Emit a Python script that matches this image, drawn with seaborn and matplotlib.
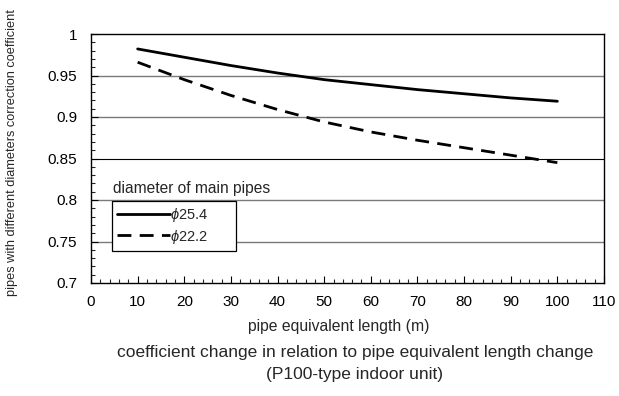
import numpy as np
import pandas as pd
import matplotlib
matplotlib.use("Agg")
import matplotlib.pyplot as plt
import seaborn as sns
from matplotlib.ticker import MultipleLocator
from matplotlib.lines import Line2D

# Correction coefficient vs. pipe equivalent length
length_m = [10, 20, 30, 40, 50, 60, 70, 80, 90, 100]
coef_254 = [0.982, 0.972, 0.962, 0.953, 0.945, 0.939, 0.933, 0.928, 0.923, 0.919]
coef_222 = [0.966, 0.945, 0.926, 0.909, 0.894, 0.882, 0.872, 0.863, 0.854, 0.845]
series_labels = [r"$\phi$25.4", r"$\phi$22.2"]
y_ticks = [0.7, 0.75, 0.8, 0.85, 0.9, 0.95, 1.0]
y_tick_labels = ["0.7", "0.75", "0.8", "0.85", "0.9", "0.95", "1"]

df = pd.concat([
    pd.DataFrame({"length": length_m, "coef": coef_254, "pipe": series_labels[0]}),
    pd.DataFrame({"length": length_m, "coef": coef_222, "pipe": series_labels[1]}),
])

sns.set_style("white")
plt.rcParams["font.family"] = ["Liberation Sans", "DejaVu Sans"]
plt.rcParams["mathtext.fontset"] = "custom"
plt.rcParams["mathtext.it"] = "Liberation Sans:italic"
plt.rcParams["mathtext.rm"] = "Liberation Sans"

fig = plt.figure(figsize=(6.19, 3.96), dpi=100)
ax = fig.add_axes([91 / 619, 1 - 283 / 396, (604 - 91) / 619, (283 - 34) / 396])

sns.lineplot(data=df, x="length", y="coef", hue="pipe", style="pipe",
             palette=["black", "black"], dashes=[(None, None), (5, 3)],
             linewidth=2, ax=ax, legend=False)

ax.set_xlim(0, 110)
ax.set_ylim(0.7, 1.0)
ax.xaxis.set_major_locator(MultipleLocator(10))
ax.xaxis.set_minor_locator(MultipleLocator(2))
ax.yaxis.set_minor_locator(MultipleLocator(0.01))
ax.set_yticks(y_ticks)
ax.set_yticklabels(y_tick_labels)

# horizontal reference lines
for yv in [0.75, 0.8, 0.9, 0.95]:
    ax.axhline(yv, color="#7a7a7a", linewidth=1.0, zorder=0)
ax.axhline(0.85, color="black", linewidth=0.8, zorder=0)

ax.tick_params(axis="both", which="major", direction="in", length=5, width=0.8,
               colors="black", pad=10)
ax.tick_params(axis="y", which="major", labelsize=11)
ax.tick_params(axis="x", which="major", labelsize=11, pad=9)
ax.tick_params(axis="both", which="minor", direction="in", length=3, width=0.8)
ax.tick_params(axis="y", which="both", left=True)
ax.tick_params(axis="x", which="both", bottom=True)
for s in ax.spines.values():
    s.set_color("black")
    s.set_linewidth(1.0)

ax.set_xlabel("pipe equivalent length (m)", fontsize=11.3)
ax.xaxis.set_label_coords((339 - 91) / 513, -(326 - 283) / 249)
ax.xaxis.label.set_va("center")
ax.set_ylabel("pipes with different diameters correction coefficient", fontsize=9.2)
ax.yaxis.set_label_coords(-(91 - 12) / 513, (283 - 153) / 249)
ax.yaxis.label.set_va("center")

# Legend
handles = [Line2D([], [], color="black", linewidth=2),
           Line2D([], [], color="black", linewidth=2, dashes=(5, 3))]
leg = ax.legend(handles, series_labels, loc="upper left", mode="expand",
                bbox_to_anchor=((112 - 91) / 513, (283 - 203) / 249,
                                (236 - 112) / 513, 0.01),
                frameon=True, fancybox=False, edgecolor="black", fontsize=10.5,
                handlelength=3.6, handletextpad=0.0, borderpad=0.35,
                labelspacing=0.27, borderaxespad=0)
leg.get_frame().set_linewidth(0.9)
leg.get_frame().set_facecolor("white")
leg.get_frame().set_alpha(1)
ax.text((113 - 91) / 513, (283 - 189) / 249, "diameter of main pipes",
        transform=ax.transAxes, fontsize=11.2, va="center", ha="left")

fig.text(355 / 619, 1 - 353 / 396,
         "coefficient change in relation to pipe equivalent length change",
         ha="center", va="center", fontsize=12.5)
fig.text(355 / 619, 1 - 374 / 396, "(P100-type indoor unit)",
         ha="center", va="center", fontsize=12.5)

fig.savefig("out.png", dpi=100)
